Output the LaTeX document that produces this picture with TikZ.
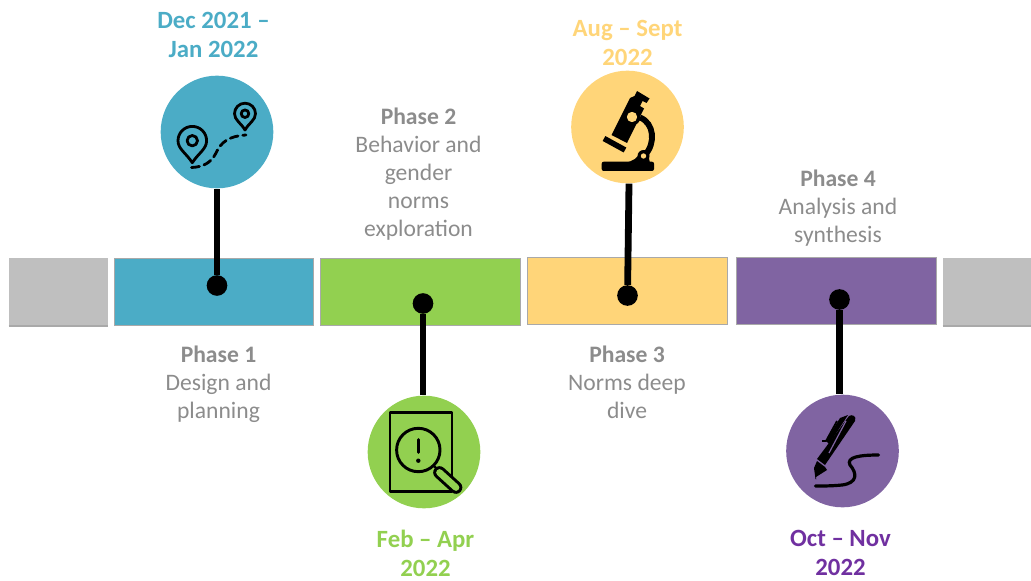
\documentclass[tikz,border=0pt]{standalone}
\usepackage{fontspec}
\setmainfont{Carlito}
\definecolor{cblue}{HTML}{4BACC6}
\definecolor{cgreen}{HTML}{92D050}
\definecolor{cyellow}{HTML}{FFD579}
\definecolor{cpurple}{HTML}{8064A2}
\definecolor{tpurple}{HTML}{7030A0}
\definecolor{cgrey}{HTML}{BFBFBF}
\definecolor{tgrey}{HTML}{8C8C8C}
\definecolor{edge}{HTML}{A9A9A9}
\tikzset{
  bar/.style={draw=edge,line width=0.5pt,fill=#1,inner sep=0pt,minimum height=50.5pt,minimum width=150pt},
  disc/.style={circle,fill=#1,inner sep=0pt,minimum size=84.5pt},
  dot/.style={circle,fill=black,inner sep=0pt,minimum size=15.5pt},
  stem/.style={line width=5.1pt,black},
  body/.style={font=\fontsize{17.7}{21}\selectfont,text=tgrey,align=center,inner sep=0pt},
  date/.style={font=\fontsize{18.6}{21.75}\selectfont\bfseries,text=#1,align=center,inner sep=0pt},
  ico/.style={black,line width=2.1pt,line cap=round,line join=round}
}
\begin{document}
\begin{tikzpicture}[x=0.75pt,y=-0.75pt]
\useasboundingbox (0,0) rectangle (1031,581);
% bars
\node[bar=cgrey,draw=none,minimum width=74.25pt] (g1) at (58.5,292) {};
\draw[edge,line width=0.8pt] (g1.south west) -- (g1.south east);
\node[bar=cblue,minimum width=149.25pt] (b1) at (213.5,292) {};
\node[bar=cgreen,minimum width=150pt] (b2) at (420,292) {};
\node[bar=cyellow,minimum width=150pt] (b3) at (627,290.5) {};
\node[bar=cpurple,minimum width=150pt] (b4) at (836,290.5) {};
\node[bar=cgrey,draw=none,minimum width=66pt] (g2) at (987,292) {};
\draw[edge,line width=0.8pt] (g2.south west) -- (g2.south east);
% discs
\node[disc=cblue] (c1) at (217,132) {};
\node[disc=cgreen] (c2) at (424,452) {};
\node[disc=cyellow] (c3) at (627.5,127) {};
\node[disc=cpurple] (c4) at (842.5,451) {};
% dots
\node[dot] (d1) at (217,285.5) {};
\node[dot] (d2) at (423,303.5) {};
\node[dot] (d3) at (627.5,295.5) {};
\node[dot] (d4) at (839.5,299.5) {};
% stems
\draw[stem] (c1.south) -- (d1);
\draw[stem] (d2) -- (d2 |- c2.north);
\draw[stem] (c3.south) ++(1.5,0) coordinate (s3) -- (d3);
\draw[stem] (d4) -- (d4 |- c4.north);
% texts
\node[date=cblue] (t1) at (213.5,35) {Dec 2021 --\\Jan 2022};
\node[date=cgreen] (t2) at (425.5,553.5) {Feb -- Apr\\2022};
\node[date=cyellow] (t3) at (627.5,43) {Aug -- Sept\\2022};
\node[date=tpurple] (t4) at (840.5,552.5) {Oct -- Nov\\2022};
\node[body] (p1) at (218.5,384) {\textbf{Phase 1}\\Design and\\planning};
\node[body] (p2) at (418.5,174) {\textbf{Phase 2}\\Behavior and\\gender\\norms\\exploration};
\node[body] (p3) at (627,382.5) {\textbf{Phase 3}\\Norms deep\\dive};
\node[body] (p4) at (838,208.5) {\textbf{Phase 4}\\Analysis and\\synthesis};
% route icon
\begin{scope}[ico]
\draw (192.3,162.7) .. controls (186,153) and (178,149) .. (178,140.7) arc[start angle=180,end angle=360,radius=14.3] .. controls (206.6,149) and (198.6,153) .. (192.3,162.7) -- cycle;
\draw (192.3,140.7) circle[radius=5.2];
\draw (245,130) .. controls (241,123) and (234.5,120) .. (234.5,113.7) arc[start angle=180,end angle=360,radius=10.5] .. controls (255.5,120) and (249,123) .. (245,130) -- cycle;
\draw (245,113.7) circle[radius=3.8];
\draw[dash pattern=on 6pt off 3.6pt] (191.5,167.5) .. controls (203,167) and (211,163) .. (216,153) .. controls (221,142) and (229,136) .. (246,135);
\end{scope}
% magnifier icon
\begin{scope}[ico,line width=2.2pt]
\draw (390,412.7) rectangle (452,491.7);
\fill[cgreen] (418.3,450) circle[radius=21.7];
\draw (418.3,450) circle[radius=21.7];
\draw[line width=1.8pt] (433.5,465.5) -- (439,471);
\draw[line width=9.5pt] (439.5,472.5) -- (456,487.5);
\draw[cgreen,line width=5pt] (439.5,472.5) -- (456,487.5);
\draw (418.3,439.5) -- (418.3,452.5);
\fill (418.3,460.7) circle[radius=2.2];
\end{scope}
% microscope icon
\begin{scope}[black]
\fill[rounded corners=1.5pt] (601.7,161.7) rectangle (654,171);
\fill (637,91) -- (649.5,98.5) -- (646.5,103) -- (642.5,101) -- (640,106) -- (644,108.5) -- (627,143) -- (611.5,135) -- (630,98) -- (634.5,96) -- cycle;
\draw[line width=4.2pt] (604,138.5) -- (625,150);
\draw[line width=4.4pt] (640,117.5) .. controls (654,123) and (656,143) .. (645,155);
\fill (625,163) .. controls (633,161) and (638,158) .. (640,152) -- (648,154) -- (650,163) -- cycle;
\fill[cyellow] (632,117) circle[radius=5.2];
\draw[line width=2.2pt] (632,117) circle[radius=7];
\fill (643.5,156) circle[radius=6];
\fill[cyellow] (643.5,156) circle[radius=2.7];
\end{scope}
% pen icon
\begin{scope}[black]
\fill (849,416) .. controls (852,414) and (857,416) .. (855,421) -- (825,465) -- (817,459) -- cycle;
\fill (840,418) -- (848,415) -- (835,435) -- (829,444) -- (826,441) -- cycle;
\draw[line width=1.3pt] (837,421) -- (826,441) -- (822,441);
\draw[cpurple,line width=0.9pt] (846,421) -- (829,453);
\fill (817,461) -- (825,467) -- (827,470) -- (816,477) -- (816,479.5) -- (815.5,479) -- (814,468) -- cycle;
\draw[line width=2.4pt,line cap=round] (878.5,455) .. controls (860,455) and (846,457) .. (850,465) .. controls (857,473) and (858,483) .. (842,485) .. controls (832,486) and (824,486) .. (815.5,486);
\end{scope}
\end{tikzpicture}
\end{document}
